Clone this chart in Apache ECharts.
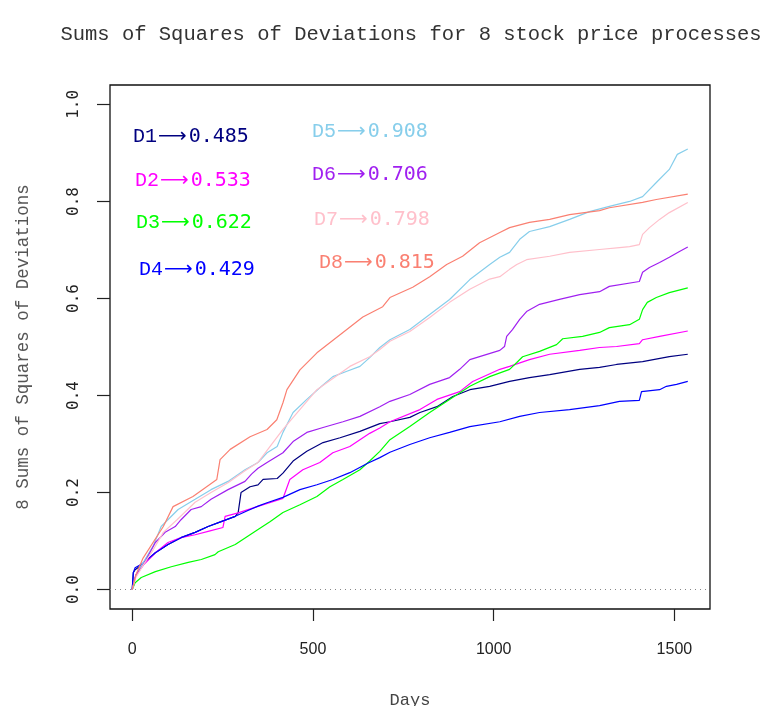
<!DOCTYPE html>
<html>
<head>
<meta charset="utf-8">
<script src="https://cdn.jsdelivr.net/npm/echarts@6/dist/echarts.min.js"></script>
<style>html,body{margin:0;padding:0;background:#fff}#c{width:761px;height:706px}</style>
</head>
<body>
<div id="c"></div>
<script>
// ---- data: [day, cumulative sum of squared deviations] ----
const seriesNames = ['D1','D2','D3','D4','D5','D6','D7','D8'];
const finalValues = ['0.485','0.533','0.622','0.429','0.908','0.706','0.798','0.815'];
const xTicks = [0, 500, 1000, 1500];
const yTicks = [0, 0.2, 0.4, 0.6, 0.8, 1.0];

const D1 = [[0,0],[3,0.035],[8,0.041],[25,0.05],[64,0.076],[99,0.093],[135,0.107],[174,0.118],[210,0.13],[246,0.14],[285,0.151],[293,0.158],[301,0.2],[326,0.212],[348,0.216],[362,0.227],[401,0.229],[417,0.24],[445,0.265],[483,0.285],[528,0.303],[575,0.313],[630,0.326],[685,0.342],[713,0.346],[768,0.355],[796,0.365],[843,0.377],[887,0.398],[934,0.412],[989,0.419],[1044,0.429],[1099,0.437],[1155,0.443],[1238,0.454],[1293,0.458],[1340,0.464],[1412,0.47],[1486,0.48],[1537,0.485]];
const D2 = [[0,0],[10,0.03],[30,0.05],[64,0.076],[99,0.097],[135,0.107],[174,0.113],[210,0.12],[251,0.128],[257,0.151],[293,0.158],[350,0.172],[417,0.188],[423,0.2],[436,0.227],[472,0.247],[519,0.262],[555,0.282],[602,0.295],[630,0.309],[657,0.322],[685,0.333],[713,0.346],[796,0.371],[843,0.392],[906,0.408],[942,0.429],[1017,0.454],[1044,0.46],[1099,0.474],[1155,0.485],[1238,0.493],[1293,0.499],[1340,0.501],[1403,0.507],[1412,0.515],[1459,0.522],[1537,0.533]];
const D3 = [[0,0],[8,0.014],[25,0.025],[64,0.037],[108,0.047],[155,0.056],[191,0.062],[229,0.072],[238,0.078],[285,0.093],[348,0.124],[381,0.14],[417,0.159],[464,0.175],[511,0.192],[547,0.212],[583,0.227],[630,0.247],[657,0.265],[685,0.285],[713,0.309],[768,0.336],[823,0.365],[878,0.392],[934,0.419],[989,0.439],[1044,0.454],[1064,0.468],[1080,0.48],[1127,0.491],[1174,0.505],[1191,0.517],[1246,0.522],[1293,0.53],[1320,0.54],[1376,0.546],[1403,0.557],[1412,0.577],[1425,0.592],[1450,0.602],[1486,0.612],[1537,0.622]];
const D4 = [[0,0],[3,0.035],[8,0.045],[25,0.052],[64,0.076],[99,0.093],[135,0.107],[174,0.118],[210,0.13],[246,0.14],[285,0.151],[320,0.163],[348,0.172],[373,0.179],[417,0.19],[464,0.206],[511,0.216],[555,0.227],[602,0.241],[650,0.26],[685,0.272],[713,0.283],[768,0.299],[823,0.313],[878,0.324],[934,0.336],[1017,0.346],[1072,0.357],[1127,0.365],[1210,0.371],[1293,0.379],[1348,0.388],[1403,0.39],[1409,0.408],[1459,0.412],[1478,0.419],[1506,0.423],[1537,0.429]];
const D5 = [[0,0],[10,0.03],[30,0.055],[58,0.09],[80,0.13],[127,0.165],[174,0.186],[218,0.206],[265,0.223],[312,0.247],[348,0.262],[373,0.282],[401,0.295],[417,0.324],[445,0.365],[483,0.392],[519,0.416],[555,0.439],[594,0.45],[630,0.46],[657,0.478],[685,0.499],[713,0.515],[768,0.536],[823,0.567],[878,0.598],[934,0.639],[989,0.67],[1017,0.685],[1044,0.695],[1072,0.722],[1099,0.738],[1155,0.748],[1210,0.763],[1265,0.779],[1320,0.79],[1376,0.8],[1412,0.81],[1450,0.839],[1486,0.866],[1508,0.897],[1537,0.908]];
const D6 = [[0,0],[10,0.03],[30,0.05],[64,0.097],[91,0.118],[119,0.13],[135,0.144],[163,0.165],[191,0.171],[218,0.186],[265,0.206],[312,0.223],[330,0.238],[348,0.25],[373,0.262],[417,0.282],[445,0.305],[483,0.324],[528,0.334],[583,0.346],[630,0.357],[685,0.377],[713,0.388],[768,0.402],[823,0.423],[878,0.437],[906,0.454],[934,0.474],[1017,0.493],[1030,0.501],[1036,0.522],[1052,0.536],[1072,0.557],[1091,0.573],[1127,0.588],[1182,0.598],[1238,0.608],[1293,0.614],[1320,0.625],[1403,0.635],[1412,0.654],[1431,0.664],[1459,0.674],[1486,0.685],[1514,0.697],[1537,0.706]];
const D7 = [[0,0],[10,0.025],[30,0.05],[58,0.082],[86,0.118],[124,0.144],[174,0.18],[218,0.2],[265,0.22],[312,0.245],[348,0.262],[417,0.33],[511,0.412],[602,0.46],[657,0.48],[685,0.495],[713,0.512],[768,0.532],[823,0.561],[878,0.592],[934,0.619],[989,0.64],[1017,0.645],[1044,0.66],[1064,0.67],[1091,0.68],[1155,0.687],[1210,0.695],[1293,0.701],[1348,0.705],[1376,0.707],[1403,0.711],[1412,0.732],[1431,0.746],[1459,0.763],[1486,0.777],[1537,0.798]];
const D8 = [[0,0],[10,0.03],[30,0.065],[86,0.13],[113,0.171],[168,0.192],[202,0.21],[234,0.227],[243,0.268],[271,0.289],[326,0.315],[373,0.33],[400,0.35],[417,0.385],[428,0.412],[464,0.453],[511,0.488],[583,0.53],[638,0.562],[693,0.583],[713,0.602],[776,0.623],[823,0.645],[870,0.67],[914,0.687],[961,0.715],[1017,0.736],[1044,0.746],[1099,0.757],[1155,0.763],[1210,0.773],[1293,0.781],[1320,0.787],[1412,0.798],[1450,0.804],[1537,0.815]];

const allData = [D1, D2, D3, D4, D5, D6, D7, D8];
const colors = ['#000080','#FF00FF','#00FF00','#0000FF','#87CEEB','#A020F0','#FFC0CB','#FA8072'];
// annotation anchor positions (pixels)
const annPos = [[133,136],[135,180],[136,222],[139,269],[312,131],[312,174],[314,219],[319,262]];

const chart = echarts.init(document.getElementById('c'), null, {renderer: 'canvas'});

const series = allData.map((d, i) => ({
  name: seriesNames[i],
  type: 'line',
  data: d,
  showSymbol: false,
  symbol: 'none',
  smooth: false,
  animation: false,
  lineStyle: {color: colors[i], width: 1.2},
  itemStyle: {color: colors[i]},
  z: 2 + i
}));
series[0].markLine = {
  silent: true,
  symbol: ['none','none'],
  label: {show: false},
  lineStyle: {color: '#888', type: [1, 4], width: 1},
  data: [{yAxis: 0}],
  animation: false
};

const graphics = [
  {type: 'text', x: 411, y: 35, style: {text: 'Sums of Squares of Deviations for 8 stock price processes', font: '20.5px "Liberation Mono"', fill: '#333', align: 'center', verticalAlign: 'middle'}}
];
seriesNames.forEach((n, i) => {
  graphics.push({
    type: 'text', x: annPos[i][0], y: annPos[i][1] + 1, z: 100,
    style: {
      text: '{a|' + n + '}{b|\u27F6}{c|' + finalValues[i] + '}',
      verticalAlign: 'middle', align: 'left', fill: colors[i],
      rich: {
        a: {fontFamily: 'Liberation Mono', fontSize: 20, fill: colors[i]},
        b: {fontFamily: 'DejaVu Sans', fontSize: 20, fill: colors[i], padding: [0, 2, 0, 1]},
        c: {fontFamily: 'DejaVu Sans Mono', fontSize: 20, fill: colors[i]}
      }
    }
  });
});

chart.setOption({
  backgroundColor: '#fff',
  animation: false,
  grid: {left: 110, right: 51, top: 85, bottom: 97, show: true, borderColor: '#111', borderWidth: 1.3, backgroundColor: '#fff', outerBoundsMode: 'none', containLabel: false},
  xAxis: {
    type: 'value', min: -61.5, max: 1598.5,
    name: 'Days', nameLocation: 'middle', nameGap: 83,
    nameTextStyle: {fontFamily: 'Liberation Mono', fontSize: 17, color: '#444'},
    axisLine: {show: false, onZero: false},
    splitLine: {show: false},
    axisTick: {show: true, inside: false, length: 12, customValues: xTicks, lineStyle: {color: '#222', width: 1.2}},
    axisLabel: {show: true, margin: 33, customValues: xTicks, formatter: v => String(v), fontFamily: 'Liberation Sans', fontSize: 16, color: '#222'}
  },
  yAxis: {
    type: 'value', min: -0.04, max: 1.04,
    name: '8 Sums of Squares of Deviations', nameLocation: 'middle', nameGap: 78, nameRotate: 90,
    nameTextStyle: {fontFamily: 'Liberation Mono', fontSize: 17.5, color: '#555'},
    axisLine: {show: false, onZero: false},
    splitLine: {show: false},
    axisTick: {show: true, inside: false, length: 13, customValues: yTicks, lineStyle: {color: '#222', width: 1.2}},
    axisLabel: {show: true, rotate: 90, margin: 28, customValues: yTicks, formatter: v => v.toFixed(1), fontFamily: 'DejaVu Sans Mono', fontSize: 16, color: '#222'}
  },
  graphic: graphics,
  series: series
});
</script>
</body>
</html>
